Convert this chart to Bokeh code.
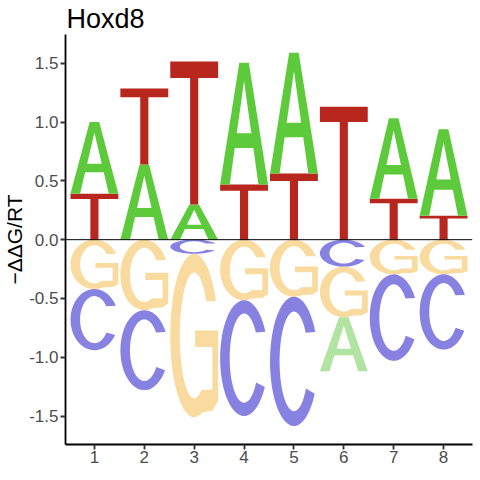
import math
from bokeh.plotting import figure
from bokeh.models import FixedTicker, Span, ColumnDataSource, Range1d
from bokeh.embed import file_html
from bokeh.resources import INLINE

# ---- data ----
positions = [1, 2, 3, 4, 5, 6, 7, 8]
A_vals = [0.61, 0.64, 0.30, 1.035, 1.026, -0.46, 0.683, 0.736]
C_vals = [-0.52, -0.68, -0.12, -0.985, -1.10, -0.23, -0.735, -0.64]
G_vals = [-0.42, -0.60, -1.39, -0.515, -0.485, -0.43, -0.295, -0.295]
T_vals = [0.39, 0.645, 1.215, 0.47, 0.563, 1.131, 0.349, 0.203]
y_ticks = [-1.5, -1.0, -0.5, 0.0, 0.5, 1.0, 1.5]
y_tick_labels = ["-1.5", "-1.0", "-0.5", "0.0", "0.5", "1.0", "1.5"]
title_text = "Hoxd8"
y_label = "\u2212\u0394\u0394G/RT"

pos_colors = {"A": "#5DCA3B", "C": "#2A20C8", "G": "#F5B335", "T": "#B8271E"}
neg_colors = {"A": "#B1E4A0", "C": "#8782E2", "G": "#F9DA9F", "T": "#DC938E"}

LETTER_W = 0.96
FONT = "Liberation Sans"


# ---- glyph outlines in a unit box ----
def arc(cx, cy, rx, ry, a0, a1, n=48):
    pts = []
    for i in range(n + 1):
        a = math.radians(a0 + (a1 - a0) * i / n)
        pts.append((cx + rx * math.cos(a), cy + ry * math.sin(a)))
    return pts


def glyph(letter):
    if letter == "T":
        return [[(0, 1), (1, 1), (1, 0.885), (0.585, 0.885), (0.585, 0),
                 (0.415, 0), (0.415, 0.885), (0, 0.885)]]
    if letter == "A":
        outer = [(0, 0), (0.4, 1), (0.6, 1), (1, 0), (0.8, 0), (0.694, 0.3),
                 (0.306, 0.3), (0.2, 0)]
        hole = [(0.348, 0.42), (0.5, 0.85), (0.652, 0.42)]
        return [outer, hole]
    if letter == "C":
        outer = arc(0.5, 0.5, 0.5, 0.5, 27, 330)
        inner = arc(0.5, 0.5, 0.30, 0.385, 327, 35)
        return [outer + inner]
    if letter == "G":
        outer = arc(0.5, 0.5, 0.5, 0.5, 25, 290)
        mid = [(0.88, 0.04), (1.0, 0.1), (1.0, 0.53), (0.52, 0.53),
               (0.52, 0.43), (0.88, 0.43), (0.88, 0.17)]
        inner = arc(0.5, 0.5, 0.30, 0.385, 300, 33)
        return [outer + mid + inner]


# ---- stack letters per position ----
vals = {"A": A_vals, "C": C_vals, "G": G_vals, "T": T_vals}
xs, ys, cols = [], [], []
for i, pos in enumerate(positions):
    col = [(L, vals[L][i]) for L in "ACGT"]
    posv = sorted([c for c in col if c[1] > 0], key=lambda c: c[1])
    negv = sorted([c for c in col if c[1] < 0], key=lambda c: -c[1])
    base = 0.0
    for L, v in posv:
        lo, hi = base, base + v
        base = hi
        rings = glyph(L)
        xs.append([[[pos - LETTER_W / 2 + px * LETTER_W for px, py in r] for r in rings]])
        ys.append([[[lo + py * (hi - lo) for px, py in r] for r in rings]])
        cols.append(pos_colors[L])
    base = 0.0
    for L, v in negv:
        hi, lo = base, base + v
        base = lo
        rings = glyph(L)
        xs.append([[[pos - LETTER_W / 2 + px * LETTER_W for px, py in r] for r in rings]])
        ys.append([[[lo + py * (hi - lo) for px, py in r] for r in rings]])
        cols.append(neg_colors[L])

src = ColumnDataSource(dict(xs=xs, ys=ys, color=cols))

p = figure(frame_width=407, frame_height=410, output_backend="svg", toolbar_location=None,
           x_range=Range1d(0.42, 8.58), y_range=Range1d(-1.742, 1.745),
           min_border_left=50, min_border_right=1, min_border_top=28,
           min_border_bottom=20, title=title_text)

p.multi_polygons(xs="xs", ys="ys", fill_color="color", line_color=None, source=src)
p.add_layout(Span(location=0, dimension="width", line_color="black", line_width=1))

p.grid.visible = False
p.outline_line_color = None
p.background_fill_color = "white"
p.border_fill_color = "white"

p.title.text_font = FONT
p.title.text_font_size = "27px"
p.title.text_font_style = "normal"
p.title.text_color = "black"
p.title.standoff = 2
p.title.offset = 1

for ax in (p.xaxis[0], p.yaxis[0]):
    ax.axis_line_color = "black"
    ax.axis_line_width = 1.8
    ax.major_tick_line_color = "#333333"
    ax.major_tick_line_width = 1.8
    ax.major_tick_out = 5
    ax.major_tick_in = 0
    ax.minor_tick_line_color = None
    ax.major_label_text_font = FONT
    ax.major_label_text_font_size = "17px"
    ax.major_label_text_color = "#4D4D4D"
    ax.major_label_standoff = 2

p.xaxis.major_label_standoff = 1
p.xaxis.axis_label_standoff = 0
p.xaxis.ticker = FixedTicker(ticks=positions)
p.yaxis.ticker = FixedTicker(ticks=y_ticks)
p.yaxis.major_label_overrides = {t: s for t, s in zip(y_ticks, y_tick_labels)}
p.yaxis.axis_label = y_label
p.yaxis.axis_label_text_font = FONT
p.yaxis.axis_label_text_font_size = "21px"
p.yaxis.axis_label_text_font_style = "normal"
p.yaxis.axis_label_text_color = "black"
p.yaxis.axis_label_standoff = 0

open("out.html", "w").write(file_html(p, INLINE))
